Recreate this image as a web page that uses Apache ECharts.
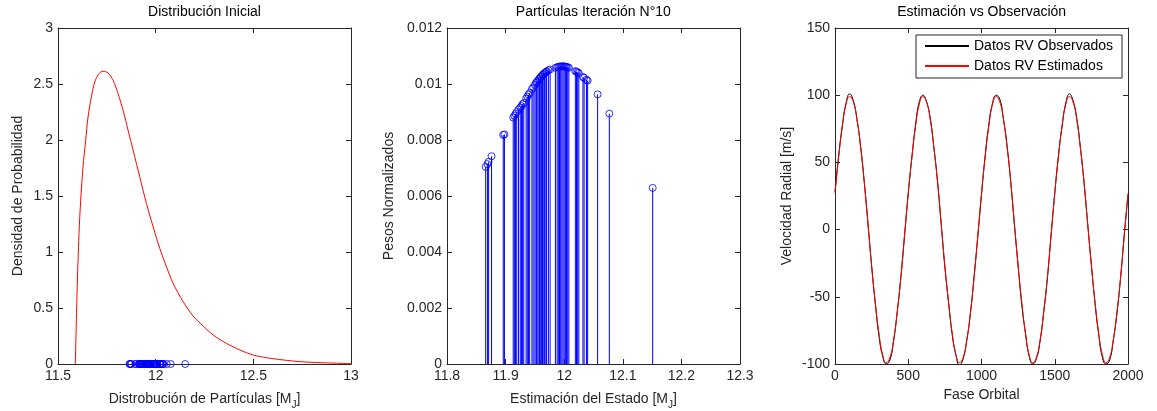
<!DOCTYPE html>
<html>
<head>
<meta charset="utf-8">
<script src="https://cdn.jsdelivr.net/npm/echarts@6/dist/echarts.min.js"></script>
<style>html,body{margin:0;padding:0;background:#fff}#c{width:1157px;height:411px}</style>
</head>
<body>
<div id="c"></div>
<script>
// ---------- DATA ----------
// Panel 1: initial distribution (density curve)
const densX = [11.5888,11.5974,11.6076,11.6162,11.6281,11.6418,11.6538,11.6709,11.6879,11.7101,11.7306,11.7563,11.7819,11.8075,11.8332,11.8588,11.8844,11.9186,11.9528,11.9869,12.0211,12.0553,12.0894,12.1407,12.1920,12.2432,12.2945,12.3628,12.4312,12.4995,12.5678,12.6532,12.7387,12.8412,13.0];
const densY = [0,0.63,1.166,1.463,1.76,1.998,2.206,2.385,2.518,2.593,2.614,2.599,2.533,2.414,2.265,2.087,1.909,1.671,1.433,1.225,1.032,0.868,0.72,0.556,0.428,0.339,0.259,0.184,0.125,0.08,0.056,0.036,0.021,0.012,0.003];

// Panel 2: particles (state estimate) and normalized weights
const particleX = [11.866,11.869,11.871,11.876,11.896,11.898,11.913,11.915,11.917,11.919,11.922,11.925,11.927,11.929,11.931,11.935,11.937,11.939,11.941,11.945,11.947,11.950,11.952,11.953,11.955,11.957,11.958,11.960,11.961,11.963,11.964,11.966,11.967,11.969,11.970,11.973,11.976,11.985,11.988,11.990,11.992,11.994,11.996,11.998,12.000,12.002,12.004,12.006,12.008,12.019,12.021,12.023,12.025,12.032,12.034,12.038,12.040,12.057,12.077,12.151];
const particleW = [0.00704,0.00714,0.00722,0.00742,0.00818,0.00820,0.00880,0.00886,0.00893,0.00900,0.00909,0.00916,0.00921,0.00928,0.00932,0.00948,0.00955,0.00962,0.00968,0.00982,0.00988,0.00997,0.01004,0.01007,0.01012,0.01017,0.01020,0.01025,0.01027,0.01032,0.01034,0.01038,0.01040,0.01043,0.01045,0.01049,0.01052,0.01058,0.01060,0.01061,0.01062,0.01063,0.01063,0.01063,0.01063,0.01062,0.01061,0.01060,0.01058,0.01046,0.01044,0.01042,0.01039,0.01025,0.01022,0.01015,0.01012,0.00963,0.00894,0.00629];

// Panel 3: radial velocity vs orbital phase
const phase = [0,25,50,75,100,125,150,175,200,225,250,275,300,325,350,375,400,425,450,475,
  500,525,550,575,600,625,650,675,700,725,750,775,800,825,850,875,900,925,950,975,
  1000,1025,1050,1075,1100,1125,1150,1175,1200,1225,1250,1275,1300,1325,1350,1375,1400,1425,1450,1475,
  1500,1525,1550,1575,1600,1625,1650,1675,1700,1725,1750,1775,1800,1825,1850,1875,1900,1925,1950,1975,2000];
const rvObserved = [28,55,77,94,101,96,82,62,35,5,-27,-55,-79,-94,-100,-97,-83,-61,-35,-4,
  27,54,78,95,100,95,83,61,36,4,-28,-54,-78,-93,-101,-96,-82,-62,-34,-5,
  26,55,78,94,100,97,82,62,35,3,-27,-56,-77,-94,-100,-96,-83,-61,-36,-4,
  27,55,77,94,101,96,83,61,35,4,-26,-55,-78,-95,-100,-97,-82,-62,-35,-3,26];
const rvEstimated = [27,54,77,93,99,95,82,61,35,4,-27,-54,-77,-93,-99,-95,-82,-61,-35,-4,
  27,54,77,93,99,95,82,61,35,4,-27,-54,-77,-93,-99,-95,-82,-61,-35,-4,
  27,54,77,93,99,95,82,61,35,4,-27,-54,-77,-93,-99,-95,-82,-61,-35,-4,
  27,54,77,93,99,95,82,61,35,4,-27,-54,-77,-93,-99,-95,-82,-61,-35,-4,27];

const titles = ['Distribución Inicial','Partículas Iteración N°10','Estimación vs Observación'];

// ---------- STYLE ----------
const FONT = 'Liberation Sans';
const INK = '#262626';
const FS = 14;
const subRich = {sub:{fontSize:10, fontFamily:FONT, color:INK, padding:[12,0,0,0]}};
const plainFmt = v => String(v);

function xAxes(gi, min, max, interval, name, gap) {
  const base = {gridIndex:gi, type:'value', min, max, interval,
    axisLine:{show:true, onZero:false, lineStyle:{color:INK, width:1}},
    axisTick:{show:true, inside:true, length:5, lineStyle:{color:INK}},
    splitLine:{show:false}};
  return [
    Object.assign({}, base, {position:'bottom', name, nameLocation:'middle', nameGap:gap,
      nameTextStyle:{fontSize:FS, fontFamily:FONT, color:INK, rich:subRich},
      axisLabel:{show:true, margin:5, fontSize:FS, fontFamily:FONT, color:INK, formatter:plainFmt}}),
    Object.assign({}, base, {position:'top', axisLabel:{show:false}})
  ];
}
function yAxes(gi, min, max, interval, name, gap) {
  const base = {gridIndex:gi, type:'value', min, max, interval,
    axisLine:{show:true, onZero:false, lineStyle:{color:INK, width:1}},
    axisTick:{show:true, inside:true, length:5, lineStyle:{color:INK}},
    splitLine:{show:false}};
  return [
    Object.assign({}, base, {position:'left', name, nameLocation:'middle', nameGap:gap,
      nameTextStyle:{fontSize:FS, fontFamily:FONT, color:INK},
      axisLabel:{show:true, margin:5, fontSize:FS, fontFamily:FONT, color:INK}}),
    Object.assign({}, base, {position:'right', axisLabel:{show:false}})
  ];
}

const circleStyle = {color:'rgba(0,0,0,0)', borderColor:'#0000ff', borderWidth:1};

const option = {
  backgroundColor:'#fff',
  animation:false,
  title: titles.map((t,i)=>({text:t, left:[204.5,593.3,981.7][i], top:5, textAlign:'center', padding:0,
    textStyle:{fontSize:FS, fontWeight:'normal', fontFamily:FONT, color:'#000'}})),
  grid:[
    {left:58, right:806, top:28, bottom:47, outerBoundsMode:'none', containLabel:false},
    {left:447, right:417, top:28, bottom:47, outerBoundsMode:'none', containLabel:false},
    {left:835, right:29, top:28, bottom:47, outerBoundsMode:'none', containLabel:false}
  ],
  xAxis:[].concat(
    xAxes(0, 11.5, 13, 0.5, 'Distrobución de Partículas [M{sub|J}]', 24),
    xAxes(1, 11.8, 12.3, 0.1, 'Estimación del Estado [M{sub|J}]', 24),
    xAxes(2, 0, 2000, 500, 'Fase Orbital', 24)
  ),
  yAxis:[].concat(
    yAxes(0, 0, 3, 0.5, 'Densidad de Probabilidad', 33),
    yAxes(1, 0, 0.012, 0.002, 'Pesos Normalizados', 51),
    yAxes(2, -100, 150, 50, 'Velocidad Radial [m/s]', 41)
  ),
  legend:{
    data:['Datos RV Observados','Datos RV Estimados'],
    orient:'vertical', left:916, top:35, padding:[4,9,5,8], itemGap:6,
    itemWidth:44, itemHeight:14, borderColor:INK, borderWidth:1, backgroundColor:'#fff',
    itemStyle:{opacity:0},
    textStyle:{fontSize:FS, fontFamily:FONT, color:'#000'}
  },
  series:[
    {type:'line', xAxisIndex:0, yAxisIndex:0, data:densX.map((x,i)=>[x,densY[i]]),
      symbol:'none', smooth:0.3, lineStyle:{color:'#ff0000', width:1}},
    {type:'scatter', xAxisIndex:0, yAxisIndex:0, data:particleX.map(x=>[x,0]),
      symbol:'circle', symbolSize:7, itemStyle:circleStyle, z:3},
    {type:'custom', xAxisIndex:2, yAxisIndex:2, data:particleX.map((x,i)=>[x,particleW[i]]),
      encode:{x:0,y:1},
      renderItem:function(params, api){
        const p0 = api.coord([api.value(0), 0]);
        const p1 = api.coord([api.value(0), api.value(1)]);
        return {type:'line', shape:{x1:p0[0], y1:p0[1], x2:p1[0], y2:p1[1]},
          style:{stroke:'#0000ff', lineWidth:1}};
      }},
    {type:'scatter', xAxisIndex:2, yAxisIndex:2, data:particleX.map((x,i)=>[x,particleW[i]]),
      symbol:'circle', symbolSize:7, itemStyle:circleStyle, z:3},
    {name:'Datos RV Observados', type:'line', xAxisIndex:4, yAxisIndex:4,
      data:phase.map((x,i)=>[x,rvObserved[i]]), symbol:'none', smooth:true,
      lineStyle:{color:'#000000', width:1}, itemStyle:{color:'#000000'}},
    {name:'Datos RV Estimados', type:'line', xAxisIndex:4, yAxisIndex:4,
      data:phase.map((x,i)=>[x,rvEstimated[i]]), symbol:'none', smooth:true,
      lineStyle:{color:'#ff0000', width:1}, itemStyle:{color:'#ff0000'}}
  ]
};
const chart = echarts.init(document.getElementById('c'), null, {renderer:'canvas'});
chart.setOption(option);
</script>
</body>
</html>
